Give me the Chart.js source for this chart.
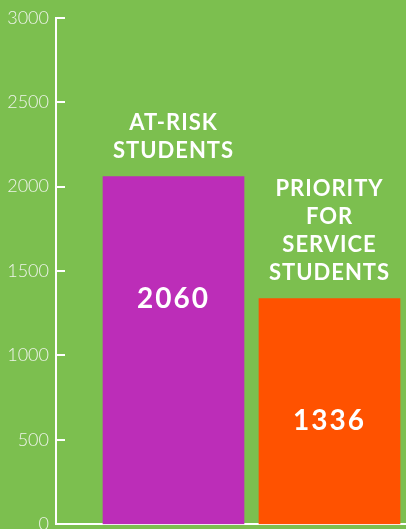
<!DOCTYPE html>
<html>
<head>
<meta charset="utf-8">
<script src="https://cdn.jsdelivr.net/npm/chart.js@4.4.0/dist/chart.umd.min.js"></script>
<style>
  html, body { margin: 0; padding: 0; background: #7cbf4f; overflow: hidden; }
  #wrap { position: relative; width: 406px; height: 542px; }
</style>
</head>
<body>
<div id="wrap"><canvas id="grafico"></canvas></div>
<script>
// dados do grafico
const categorias = [["AT-RISK", "STUDENTS"], ["PRIORITY", "FOR", "SERVICE", "STUDENTS"]];
const posicoes = [1, 2];
const valores = [2060, 1336];
const coresBarras = ["#bc2db8", "#ff5200"];
const yMax = 3000;
const yPasso = 500;

const branco = "#ffffff";

// marcas do eixo Y para dentro do grafico
const pluginMarcas = {
  id: "marcasEixo",
  afterDraw: (chart) => {
    const ctx = chart.ctx;
    const y = chart.scales.y;
    const left = chart.chartArea.left;
    ctx.save();
    ctx.strokeStyle = branco;
    ctx.lineWidth = 2;
    y.ticks.forEach(function (t) {
      const py = Math.round(y.getPixelForValue(t.value));
      ctx.beginPath();
      ctx.moveTo(left, py);
      ctx.lineTo(left + 9, py);
      ctx.stroke();
    });
    ctx.restore();
  },
};

// textos acima e dentro das barras
const pluginTextos = {
  id: "textosBarras",
  afterDatasetsDraw: (chart) => {
    const ctx = chart.ctx;
    const barras = chart.getDatasetMeta(0).data;
    ctx.save();
    ctx.fillStyle = branco;
    ctx.textAlign = "center";
    ctx.textBaseline = "middle";
    barras.forEach(function (barra, i) {
      const linhas = categorias[i];
      ctx.font = "bold 22px Lato";
      ctx.letterSpacing = "1px";
      linhas.forEach(function (linha, j) {
        const py = barra.y - 26 - (linhas.length - 1 - j) * 27.8;
        ctx.fillText(linha, barra.x, py);
      });
      ctx.font = "bold 28px Lato";
      ctx.letterSpacing = "2px";
      ctx.fillText(String(valores[i]), barra.x, barra.y + 122);
    });
    ctx.restore();
  },
};

const grafico = document.getElementById("grafico");

new Chart(grafico, {
  type: "bar",
  plugins: [pluginMarcas, pluginTextos],
  data: {
    datasets: [
      {
        data: posicoes.map(function (p, i) { return { x: p, y: valores[i] }; }),
        backgroundColor: coresBarras,
        borderWidth: 0,
        barThickness: 141,
      },
    ],
  },
  options: {
    responsive: true,
    maintainAspectRatio: false,
    animation: false,
    layout: { padding: { top: 11, right: 0, bottom: 0, left: 0 } },
    plugins: {
      legend: { display: false },
      tooltip: { enabled: false },
    },
    scales: {
      x: {
        type: "linear",
        offset: false,
        min: 0.2468,
        max: 2.4904,
        grid: { display: false, drawTicks: false },
        ticks: { display: false },
        border: { display: true, color: branco, width: 2 },
      },
      y: {
        min: 0,
        max: yMax,
        ticks: {
          stepSize: yPasso,
          color: "#eef4ea",
          font: { family: "Lato", size: 18, weight: "300" },
          padding: 7,
          callback: function (v) { return String(v); },
        },
        grid: { display: false, drawTicks: false },
        border: { display: true, color: branco, width: 2 },
        afterFit: function (scale) { scale.width = 56; },
      },
    },
  },
});
</script>
</body>
</html>
